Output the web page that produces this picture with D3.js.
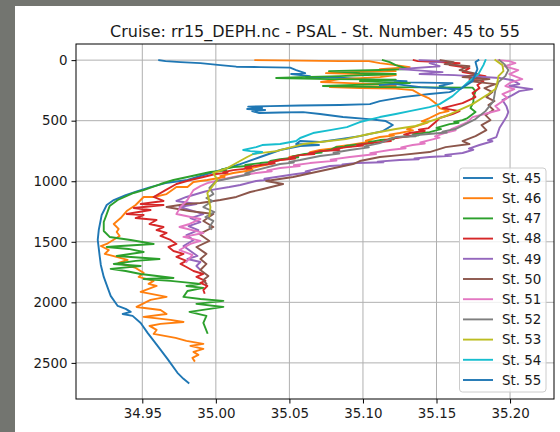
<!DOCTYPE html>
<html>
<head>
<meta charset="utf-8">
<script src="https://cdn.jsdelivr.net/npm/d3@7"></script>
<style>
  body { margin: 0; background: #fff; }
  svg { display: block; font-family: "DejaVu Sans", sans-serif; }
</style>
</head>
<body>
<svg id="chart" width="560" height="432"></svg>
<script>
// Salinity (PSAL) profiles against depth (DEPH), one array of [psal, deph] per station
const stations = ["St. 45", "St. 46", "St. 47", "St. 48", "St. 49", "St. 50",
                  "St. 51", "St. 52", "St. 53", "St. 54", "St. 55"];
const colors = ["#1f77b4", "#ff7f0e", "#2ca02c", "#d62728", "#9467bd", "#8c564b",
                "#e377c2", "#7f7f7f", "#bcbd22", "#17becf", "#1f77b4"];

const st45 = [[34.9615,0],[34.9658,8],[34.9760,16],[34.9895,25],[35.0030,41],[35.0139,54],[35.0302,58],[35.0505,62],[35.0546,82],[35.0607,107],[35.0512,115],[35.0640,132],[35.0613,140],[35.0843,144],[35.1115,165],[35.1297,173],[35.1216,181],[35.1406,186],[35.1609,190],[35.1521,214],[35.1623,248],[35.1589,264],[35.1453,280],[35.1270,305],[35.1115,338],[35.1047,363],[35.0843,371],[35.0573,375],[35.0369,380],[35.0220,384],[35.0315,396],[35.0213,404],[35.0335,412],[35.0247,421],[35.0295,437],[35.0437,433],[35.0593,429],[35.0708,445],[35.0864,470],[35.1040,487],[35.1155,503],[35.1203,536],[35.1135,586],[35.0979,627],[35.0843,652],[35.0708,676],[35.0573,668],[35.0546,693],[35.0701,701],[35.0573,709],[35.0437,742],[35.0302,800],[35.0166,858],[35.0030,908],[34.9895,957],[34.9807,990],[34.9658,1015],[34.9556,1048],[34.9468,1081],[34.9387,1114],[34.9306,1155],[34.9258,1196],[34.9224,1279],[34.9204,1403],[34.9197,1485],[34.9211,1625],[34.9218,1691],[34.9238,1790],[34.9265,1881],[34.9285,1947],[34.9333,2030],[34.9387,2054],[34.9421,2079],[34.9367,2096],[34.9434,2112],[34.9489,2170],[34.9536,2252],[34.9604,2360],[34.9671,2467],[34.9739,2582],[34.9780,2632],[34.9814,2665]];

const st46 = [[35.0268,0],[35.0573,4],[35.0843,8],[35.1040,8],[35.1115,25],[35.1223,41],[35.1318,58],[35.1115,74],[35.1223,91],[35.0911,99],[35.0749,107],[35.0979,115],[35.1223,124],[35.1115,140],[35.0843,157],[35.0715,181],[35.0911,190],[35.1115,198],[35.1223,214],[35.0776,223],[35.0979,231],[35.1223,235],[35.1338,248],[35.1385,280],[35.1446,313],[35.1500,363],[35.1521,396],[35.1582,421],[35.1521,437],[35.1453,478],[35.1400,505],[35.1440,515],[35.1385,536],[35.1300,570],[35.1340,580],[35.1250,602],[35.1180,615],[35.1210,622],[35.1115,635],[35.1020,665],[35.1060,672],[35.0911,701],[35.0820,715],[35.0860,722],[35.0708,742],[35.0640,760],[35.0670,766],[35.0573,784],[35.0500,800],[35.0530,806],[35.0437,825],[35.0360,846],[35.0395,853],[35.0302,874],[35.0210,900],[35.0250,907],[35.0119,932],[35.0030,958],[35.0060,965],[34.9942,990],[34.9848,1006],[34.9807,1048],[34.9732,1048],[34.9665,1106],[34.9577,1130],[34.9509,1130],[34.9455,1196],[34.9394,1246],[34.9353,1304],[34.9306,1353],[34.9339,1394],[34.9326,1419],[34.9346,1452],[34.9258,1518],[34.9218,1535],[34.9272,1568],[34.9245,1600],[34.9299,1617],[34.9400,1650],[34.9339,1675],[34.9455,1716],[34.9509,1757],[34.9475,1790],[34.9577,1823],[34.9543,1848],[34.9597,1865],[34.9489,1914],[34.9665,1955],[34.9556,1980],[34.9461,2038],[34.9624,2063],[34.9665,2096],[34.9509,2120],[34.9692,2145],[34.9780,2162],[34.9624,2178],[34.9549,2195],[34.9597,2228],[34.9577,2261],[34.9726,2294],[34.9800,2318],[34.9915,2343],[34.9827,2360],[34.9915,2384],[34.9848,2409],[34.9881,2434],[34.9841,2459],[34.9854,2483]];

const st47 = [[35.1135,0],[35.1182,16],[35.1223,41],[35.1311,74],[35.1115,82],[35.0769,91],[35.0979,107],[35.1223,115],[35.0843,132],[35.0573,140],[35.0410,148],[35.0776,157],[35.1223,161],[35.0979,173],[35.1318,190],[35.0728,214],[35.1115,223],[35.1745,227],[35.1765,256],[35.1751,305],[35.1751,346],[35.1731,396],[35.1765,429],[35.1711,478],[35.1677,495],[35.1620,510],[35.1650,518],[35.1589,528],[35.1500,560],[35.1530,570],[35.1453,594],[35.1340,612],[35.1380,620],[35.1250,635],[35.1180,648],[35.1210,653],[35.1115,660],[35.1040,678],[35.1070,684],[35.0999,693],[35.0880,708],[35.0920,712],[35.0816,718],[35.0776,742],[35.0690,758],[35.0720,764],[35.0606,775],[35.0520,795],[35.0560,802],[35.0437,817],[35.0370,832],[35.0400,838],[35.0302,850],[35.0200,866],[35.0240,872],[35.0119,883],[35.0040,903],[35.0070,910],[34.9963,924],[34.9807,965],[34.9712,990],[34.9624,1023],[34.9509,1073],[34.9441,1097],[34.9333,1155],[34.9278,1205],[34.9258,1271],[34.9238,1337],[34.9238,1411],[34.9278,1460],[34.9421,1485],[34.9577,1518],[34.9353,1535],[34.9258,1543],[34.9407,1559],[34.9509,1584],[34.9326,1617],[34.9617,1642],[34.9455,1658],[34.9306,1683],[34.9489,1700],[34.9285,1724],[34.9387,1741],[34.9489,1766],[34.9712,1799],[34.9509,1807],[34.9692,1823],[34.9895,1848],[34.9800,1865],[34.9915,1881],[34.9807,1906],[34.9780,1955],[34.9895,1972],[35.0051,1988],[34.9868,2013],[35.0051,2038],[34.9821,2079],[34.9936,2112],[34.9915,2170],[34.9942,2252]];

const st48 = [[35.1345,0],[35.1372,8],[35.1521,16],[35.1657,25],[35.1589,41],[35.1724,66],[35.1677,99],[35.1833,132],[35.1724,157],[35.1819,173],[35.1778,206],[35.1792,231],[35.1745,272],[35.1765,305],[35.1677,355],[35.1541,396],[35.1657,421],[35.1609,445],[35.1521,478],[35.1494,511],[35.1446,561],[35.1380,575],[35.1420,585],[35.1318,602],[35.1280,615],[35.1330,625],[35.1223,643],[35.1150,660],[35.1190,668],[35.1047,685],[35.0960,700],[35.1000,706],[35.0891,718],[35.0800,735],[35.0840,742],[35.0708,751],[35.0630,770],[35.0670,776],[35.0573,784],[35.0500,805],[35.0540,812],[35.0437,825],[35.0360,845],[35.0400,852],[35.0302,866],[35.0200,885],[35.0240,892],[35.0119,908],[35.0050,925],[35.0080,930],[34.9997,940],[34.9915,965],[34.9827,990],[34.9732,1023],[34.9658,1073],[34.9577,1130],[34.9644,1163],[34.9489,1188],[34.9644,1196],[34.9441,1221],[34.9556,1238],[34.9394,1271],[34.9509,1279],[34.9455,1304],[34.9597,1320],[34.9549,1353],[34.9644,1378],[34.9597,1403],[34.9665,1427],[34.9624,1452],[34.9692,1485],[34.9732,1518],[34.9678,1543],[34.9712,1576],[34.9780,1600],[34.9732,1625],[34.9800,1658],[34.9760,1683],[34.9800,1708],[34.9848,1741],[34.9915,1766],[34.9868,1790],[34.9929,1823],[34.9895,1840],[34.9942,1865],[34.9915,1898],[34.9922,1922]];

const st49 = [[35.1385,0],[35.1562,8],[35.1453,25],[35.1521,50],[35.1250,74],[35.1541,99],[35.1385,115],[35.1623,124],[35.1928,148],[35.2016,165],[35.2063,198],[35.1995,214],[35.2151,239],[35.2063,256],[35.2016,289],[35.1948,330],[35.1975,380],[35.1988,429],[35.1975,470],[35.1928,561],[35.1907,635],[35.1850,660],[35.1880,670],[35.1792,701],[35.1720,730],[35.1750,740],[35.1677,767],[35.1560,782],[35.1600,790],[35.1453,800],[35.1350,812],[35.1380,818],[35.1250,825],[35.1100,838],[35.1140,843],[35.0959,850],[35.0860,862],[35.0890,866],[35.0776,874],[35.0681,899],[35.0610,918],[35.0640,926],[35.0546,940],[35.0410,965],[35.0330,980],[35.0360,986],[35.0274,998],[35.0166,1031],[35.0091,1048],[34.9963,1073],[34.9915,1089],[34.9800,1130],[34.9732,1163],[34.9868,1188],[34.9753,1213],[34.9827,1238],[34.9915,1271],[34.9827,1304],[34.9895,1337],[34.9814,1370],[34.9881,1403],[34.9800,1444],[34.9848,1485],[34.9780,1535],[34.9827,1576],[34.9875,1617],[34.9807,1642],[34.9895,1667],[34.9868,1700],[34.9895,1733]];

const st50 = [[35.1528,0],[35.1616,16],[35.1555,33],[35.1724,50],[35.1657,82],[35.1785,115],[35.1677,140],[35.1860,157],[35.1724,173],[35.1900,198],[35.1826,231],[35.1880,264],[35.1839,305],[35.1894,338],[35.1853,371],[35.1887,412],[35.1833,454],[35.1867,495],[35.1806,536],[35.1839,578],[35.1765,627],[35.1677,668],[35.1724,693],[35.1562,718],[35.1453,759],[35.1250,784],[35.1115,800],[35.0979,833],[35.0932,858],[35.0681,924],[35.0525,965],[35.0342,998],[35.0457,1023],[35.0322,1064],[35.0234,1089],[35.0139,1130],[35.0030,1155],[34.9895,1180],[34.9800,1188],[34.9665,1213],[34.9821,1246],[34.9983,1271],[34.9915,1328],[34.9983,1378],[34.9888,1436],[34.9956,1493],[34.9868,1543],[34.9936,1600],[34.9895,1642],[34.9936,1683],[34.9895,1733],[34.9949,1782],[34.9915,1815],[34.9936,1848]];

const st51 = [[35.1921,0],[35.1995,8],[35.2036,25],[35.1961,50],[35.2056,82],[35.1995,115],[35.2083,157],[35.2009,181],[35.1968,214],[35.2029,239],[35.1948,280],[35.1982,313],[35.1900,380],[35.1928,412],[35.1826,445],[35.1745,470],[35.1711,511],[35.1650,544],[35.1600,570],[35.1630,580],[35.1555,602],[35.1490,630],[35.1520,640],[35.1453,660],[35.1390,680],[35.1420,688],[35.1338,701],[35.1260,720],[35.1290,728],[35.1182,742],[35.1050,768],[35.1090,775],[35.0911,800],[35.0780,822],[35.0820,830],[35.0640,850],[35.0530,868],[35.0570,875],[35.0437,891],[35.0350,910],[35.0380,918],[35.0274,932],[35.0119,965],[35.0030,990],[34.9942,1015],[34.9895,1040],[34.9848,1073],[34.9827,1114],[34.9807,1155],[34.9760,1213],[34.9732,1271],[34.9895,1312],[34.9821,1353],[34.9753,1378],[34.9915,1427],[34.9780,1460],[34.9895,1493],[34.9827,1518],[34.9753,1568],[34.9841,1609],[34.9800,1667]];

const st52 = [[35.1928,0],[35.1961,33],[35.1988,82],[35.1968,132],[35.1921,181],[35.1900,248],[35.1887,338],[35.1833,421],[35.1765,487],[35.1629,569],[35.1540,590],[35.1570,598],[35.1446,610],[35.1330,622],[35.1360,628],[35.1223,635],[35.1115,685],[35.1010,712],[35.1040,720],[35.0911,742],[35.0800,765],[35.0840,772],[35.0708,792],[35.0573,825],[35.0500,840],[35.0530,846],[35.0437,858],[35.0274,908],[35.0200,935],[35.0230,942],[35.0139,965],[35.0003,998],[34.9956,1056],[34.9983,1106],[34.9936,1139],[34.9976,1163],[34.9915,1213],[34.9990,1254],[34.9929,1295],[34.9983,1328],[34.9956,1378],[34.9969,1394]];

const st53 = [[35.1900,0],[35.1948,41],[35.1955,91],[35.1921,132],[35.1914,181],[35.1900,239],[35.1853,280],[35.1745,363],[35.1562,462],[35.1358,544],[35.1223,569],[35.1040,610],[35.0884,652],[35.0593,693],[35.0410,751],[35.0254,775],[35.0213,800],[35.0078,891],[34.9983,932],[35.0010,990],[34.9942,1097],[34.9963,1213],[34.9956,1287]];

const st54 = [[35.1833,0],[35.1819,41],[35.1785,115],[35.1724,173],[35.1677,223],[35.1609,297],[35.1521,363],[35.1453,388],[35.1318,421],[35.1223,445],[35.1115,470],[35.0979,511],[35.0891,553],[35.0776,578],[35.0661,602],[35.0573,643],[35.0546,668],[35.0437,693],[35.0315,701],[35.0274,718],[35.0186,742],[35.0234,751],[35.0315,759],[35.0254,775]];

const st55 = [[35.1785,0],[35.1765,16],[35.1778,74],[35.1745,173],[35.1663,239],[35.1521,231],[35.1392,223],[35.1223,198],[35.1115,206]];

const profiles = [st45, st46, st47, st48, st49, st50, st51, st52, st53, st54, st55];

const xTicks = [34.95, 35.00, 35.05, 35.10, 35.15, 35.20];
const yTicks = [0, 500, 1000, 1500, 2000, 2500];
const titleText = "Cruise: rr15_DEPH.nc - PSAL - St. Number: 45 to 55";

// ---- layout ----
const W = 560, H = 432;
const plot = { left: 76, right: 554, top: 44, bottom: 399 };

const svg = d3.select("#chart");

// outer grey surround and white figure canvas
svg.append("rect").attr("x", 0).attr("y", 0).attr("width", W).attr("height", H).attr("fill", "#737570");
svg.append("rect").attr("x", 15).attr("y", 6).attr("width", W - 15).attr("height", H - 6).attr("fill", "#ffffff");

// scales with 5% padding around the data extent
const allPts = profiles.flat();
const sExt = d3.extent(allPts, d => d[0]);
const dExt = d3.extent(allPts, d => d[1]);
const sPad = (sExt[1] - sExt[0]) * 0.05;
const dPad = (dExt[1] - dExt[0]) * 0.05;

const x = d3.scaleLinear().domain([sExt[0] - sPad, sExt[1] + sPad]).range([plot.left, plot.right]);
const y = d3.scaleLinear().domain([dExt[0] - dPad, dExt[1] + dPad]).range([plot.top, plot.bottom]);

// grid
const grid = svg.append("g");
grid.selectAll("line.gx").data(xTicks).join("line")
  .attr("x1", d => x(d)).attr("x2", d => x(d))
  .attr("y1", plot.top).attr("y2", plot.bottom)
  .attr("stroke", "#b0b0b0").attr("stroke-width", 1);
grid.selectAll("line.gy").data(yTicks).join("line")
  .attr("x1", plot.left).attr("x2", plot.right)
  .attr("y1", d => y(d)).attr("y2", d => y(d))
  .attr("stroke", "#b0b0b0").attr("stroke-width", 1);

// clip for profile lines
svg.append("clipPath").attr("id", "plotclip").append("rect")
  .attr("x", plot.left).attr("y", plot.top)
  .attr("width", plot.right - plot.left).attr("height", plot.bottom - plot.top);

const line = d3.line().x(d => x(d[0])).y(d => y(d[1]));

svg.append("g").attr("clip-path", "url(#plotclip)")
  .selectAll("path").data(profiles).join("path")
  .attr("d", line)
  .attr("fill", "none")
  .attr("stroke", (d, i) => colors[i])
  .attr("stroke-width", 1.9)
  .attr("stroke-linejoin", "round")
  .attr("stroke-linecap", "square");

// axes
const xAxis = d3.axisBottom(x).tickValues(xTicks).tickFormat(d3.format(".2f")).tickSize(4.5).tickPadding(4.5);
const yAxis = d3.axisLeft(y).tickValues(yTicks).tickFormat(d3.format("d")).tickSize(4.5).tickPadding(4);

const gx = svg.append("g").attr("transform", `translate(0,${plot.bottom})`).call(xAxis);
const gy = svg.append("g").attr("transform", `translate(${plot.left},0)`).call(yAxis);
[gx, gy].forEach(g => {
  g.select(".domain").remove();
  g.selectAll(".tick line").attr("stroke", "#000").attr("stroke-width", 1);
  g.selectAll(".tick text").attr("fill", "#1a1a1a")
    .style("font-family", "'DejaVu Sans', sans-serif").style("font-size", "13.4px");
});

// spines
svg.append("rect")
  .attr("x", plot.left).attr("y", plot.top)
  .attr("width", plot.right - plot.left).attr("height", plot.bottom - plot.top)
  .attr("fill", "none").attr("stroke", "#000").attr("stroke-width", 1);

// title
svg.append("text")
  .attr("x", (plot.left + plot.right) / 2).attr("y", 36.5)
  .attr("text-anchor", "middle")
  .attr("fill", "#1a1a1a")
  .style("font-size", "16px")
  .text(titleText);

// legend
const lg = svg.append("g");
lg.append("rect")
  .attr("x", 459.5).attr("y", 168).attr("width", 86.5).attr("height", 224)
  .attr("rx", 3).attr("ry", 3)
  .attr("fill", "#ffffff").attr("fill-opacity", 0.8)
  .attr("stroke", "#cccccc").attr("stroke-width", 1);

const items = lg.selectAll("g.item").data(stations).join("g")
  .attr("transform", (d, i) => `translate(0,${178 + i * 20.2})`);
items.append("line")
  .attr("x1", 463).attr("x2", 493).attr("y1", 0).attr("y2", 0)
  .attr("stroke", (d, i) => colors[i]).attr("stroke-width", 1.9);
items.append("text")
  .attr("x", 502).attr("y", 0).attr("dy", "0.36em")
  .attr("fill", "#1a1a1a")
  .style("font-size", "13.4px")
  .text(d => d);
</script>
</body>
</html>
